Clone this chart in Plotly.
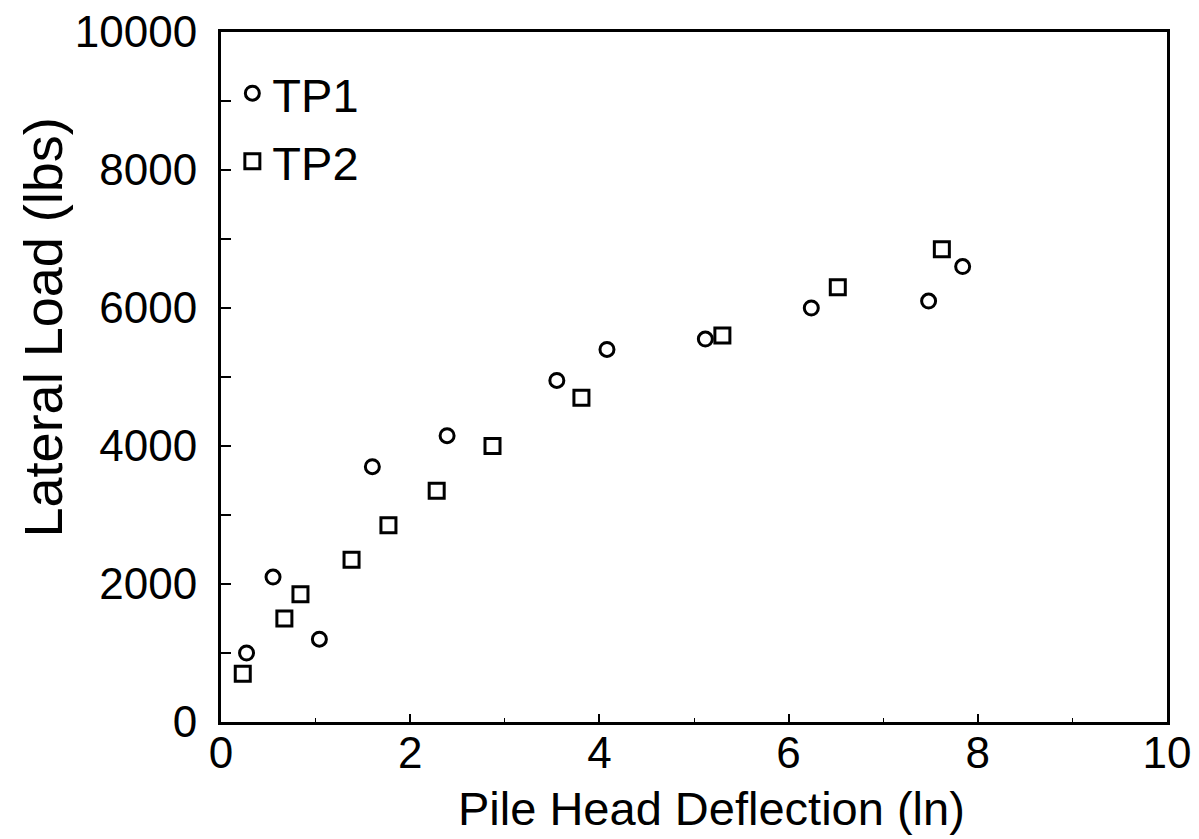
import plotly.graph_objects as go

# TP1 (circles)
tp1_deflection = [0.27, 0.55, 1.04, 1.60, 2.39, 3.55, 4.08, 5.12, 6.24, 7.48, 7.84]
tp1_load = [1000, 2100, 1200, 3700, 4150, 4950, 5400, 5550, 6000, 6100, 6600]

# TP2 (squares)
tp2_deflection = [0.23, 0.67, 0.84, 1.38, 1.77, 2.28, 2.87, 3.81, 5.30, 6.52, 7.62]
tp2_load = [700, 1500, 1850, 2350, 2850, 3350, 4000, 4700, 5600, 6300, 6850]

x_ticks = [0, 2, 4, 6, 8, 10]
y_ticks = [0, 2000, 4000, 6000, 8000, 10000]

x_title = "Pile Head Deflection (ln)"
y_title = "Lateral Load (lbs)"

FONT = "Liberation Sans, Arial, sans-serif"

fig = go.Figure()
fig.add_trace(go.Scatter(
    x=tp1_deflection, y=tp1_load, mode="markers", name="TP1",
    legendgroup="a",
    marker=dict(symbol="circle-open", size=14, color="black", line=dict(width=3, color="black")),
))
fig.add_trace(go.Scatter(
    x=tp2_deflection, y=tp2_load, mode="markers", name="TP2",
    legendgroup="b",
    marker=dict(symbol="square-open", size=15, color="black", line=dict(width=3, color="black")),
))

fig.update_layout(
    width=1199, height=839,
    margin=dict(l=213, r=40, t=24, b=125),
    paper_bgcolor="white", plot_bgcolor="white",
    font=dict(family=FONT, color="black", size=40),
    showlegend=True,
    legend=dict(
        x=0.012, y=0.965, xanchor="left", yanchor="top",
        bgcolor="rgba(0,0,0,0)", borderwidth=0,
        font=dict(size=47, family=FONT),
        itemwidth=30, tracegroupgap=4,
        traceorder="grouped",
    ),
    xaxis=dict(
        range=[0, 10], tickvals=x_ticks, ticktext=[str(v) for v in x_ticks],
        ticks="inside", ticklen=8, tickwidth=2, tickcolor="black",
        minor=dict(dtick=1, ticks="inside", ticklen=4, tickwidth=1, tickcolor="black"),
        showline=True, linewidth=3, linecolor="black", mirror=True,
        showgrid=False, zeroline=False, automargin=False,
        tickfont=dict(size=44), ticklabelstandoff=-10, ticklabeloverflow="allow",
    ),
    yaxis=dict(
        range=[0, 10000], tickvals=y_ticks, ticktext=[str(v) for v in y_ticks],
        ticks="inside", ticklen=10, tickwidth=2, tickcolor="black",
        minor=dict(dtick=1000, ticks="inside", ticklen=10, tickwidth=2, tickcolor="black"),
        showline=True, linewidth=3, linecolor="black", mirror=True,
        showgrid=False, zeroline=False, automargin=False,
        tickfont=dict(size=44), ticklabelstandoff=12, ticklabeloverflow="allow",
    ),
    annotations=[
        dict(text=x_title, xref="paper", yref="paper", x=0.518, y=-0.125,
             xanchor="center", yanchor="middle", showarrow=False,
             font=dict(size=47, family=FONT)),
        dict(text=y_title, xref="paper", yref="paper", x=-0.188, y=0.572,
             xanchor="center", yanchor="middle", textangle=-90, showarrow=False,
             font=dict(size=54, family=FONT)),
    ],
)

fig.write_html("out.html")
